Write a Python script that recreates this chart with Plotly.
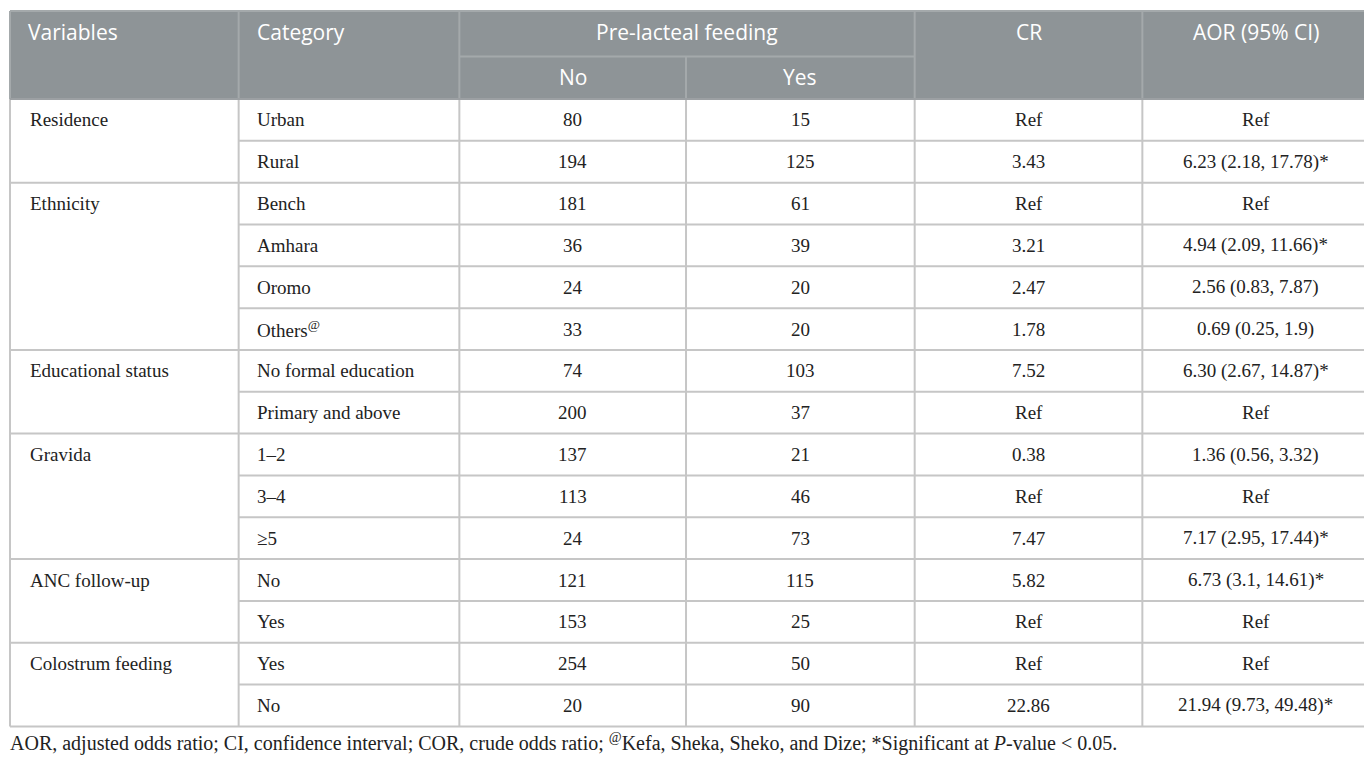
# Pre-lacteal feeding table: factors associated, drawn as a plotly figure


import numpy as np
import plotly.graph_objects as go

## Table data
variables = ["Residence", "Ethnicity", "Educational status", "Gravida",
             "ANC follow-up", "Colostrum feeding"]
group_sizes = [2, 4, 2, 3, 2, 2]
categories = ["Urban", "Rural", "Bench", "Amhara", "Oromo", "Others<sup>@</sup>",
              "No formal education", "Primary and above", "1–2", "3–4", "≥5",
              "No", "Yes", "Yes", "No"]
no_counts = [80, 194, 181, 36, 24, 33, 74, 200, 137, 113, 24, 121, 153, 254, 20]
yes_counts = [15, 125, 61, 39, 20, 20, 103, 37, 21, 46, 73, 115, 25, 50, 90]
cr_values = ["Ref", "3.43", "Ref", "3.21", "2.47", "1.78", "7.52", "Ref",
             "0.38", "Ref", "7.47", "5.82", "Ref", "Ref", "22.86"]
aor_values = ["Ref", "6.23 (2.18, 17.78)*", "Ref", "4.94 (2.09, 11.66)*",
              "2.56 (0.83, 7.87)", "0.69 (0.25, 1.9)", "6.30 (2.67, 14.87)*", "Ref",
              "1.36 (0.56, 3.32)", "Ref", "7.17 (2.95, 17.44)*", "6.73 (3.1, 14.61)*",
              "Ref", "Ref", "21.94 (9.73, 49.48)*"]
footnote = ("AOR, adjusted odds ratio; CI, confidence interval; COR, crude odds ratio; "
            "<sup>@</sup>Kefa, Sheka, Sheko, and Dize; *Significant at <i>P</i>-value &lt; 0.05.")

## Layout constants (pixel coordinates of the 1372x758 window)
W, H = 1372, 758
PAGE_MARGIN = 8  # browser default body margin
col_x = [2, 232, 454, 682, 912, 1141, 1369]
head_top, head_mid, head_bot = 3, 49, 92
row_h = 42.27
n_rows = len(categories)
row_y = head_bot + row_h * np.arange(n_rows + 1)

HEAD_BG = "#8e9497"
HEAD_LINE = "#a4a9ab"
GRID = "#c6c6c6"
SERIF = "Liberation Serif"
SANS = "Open Sans"

fig = go.Figure()
shapes = []
annotations = []

def line(x0, y0, x1, y1, color=GRID, width=2):
    shapes.append(dict(type="line", x0=x0, y0=y0, x1=x1, y1=y1, xref="x", yref="y",
                       line=dict(color=color, width=width), layer="above"))

def text(x, y, s, anchor="center", size=19, color="#222222", family=SERIF):
    annotations.append(dict(x=x, y=y, text=s, xref="x", yref="y", showarrow=False,
                            xanchor=anchor, yanchor="middle",
                            font=dict(size=size, color=color, family=family)))

## Header
shapes.append(dict(type="rect", x0=col_x[0], x1=col_x[-1], y0=head_top, y1=head_bot,
                   xref="x", yref="y", fillcolor=HEAD_BG, line=dict(width=0), layer="below"))
for cx in col_x[1:-1]:
    if cx == col_x[3]:
        line(cx, head_mid, cx, head_bot, HEAD_LINE)
    else:
        line(cx, head_top, cx, head_bot, HEAD_LINE)
line(col_x[2], head_mid, col_x[4], head_mid, HEAD_LINE)

y1 = (head_top + head_mid) / 2 - 2
y2 = (head_mid + head_bot) / 2 - 1
text(col_x[0] + 16, y1, "Variables", "left", 21, "white", SANS)
text(col_x[1] + 16, y1, "Category", "left", 21, "white", SANS)
text((col_x[2] + col_x[4]) / 2, y1, "Pre-lacteal feeding", "center", 21, "white", SANS)
text((col_x[2] + col_x[3]) / 2, y2, "No", "center", 21, "white", SANS)
text((col_x[3] + col_x[4]) / 2, y2, "Yes", "center", 21, "white", SANS)
text((col_x[4] + col_x[5]) / 2, y1, "CR", "center", 21, "white", SANS)
text((col_x[5] + col_x[6]) / 2, y1, "AOR (95% CI)", "center", 21, "white", SANS)

## Body grid
for cx in col_x:
    line(cx, head_bot, cx, row_y[-1])
group_starts = np.concatenate([[0], np.cumsum(group_sizes)])
for i in range(n_rows + 1):
    x_start = col_x[0] if i in group_starts else col_x[1]
    line(x_start, row_y[i], col_x[-1], row_y[i])
line(col_x[0], head_top, col_x[-1], head_top, HEAD_LINE)
line(col_x[0], head_top, col_x[0], head_bot, HEAD_LINE)
line(col_x[-1], head_top, col_x[-1], head_bot, HEAD_LINE)
line(col_x[0], head_bot, col_x[-1], head_bot, "#9ca0a3")

## Body text
for g, name in enumerate(variables):
    r = group_starts[g]
    text(col_x[0] + 18, (row_y[r] + row_y[r + 1]) / 2, name, "left")

for i in range(n_rows):
    yc = (row_y[i] + row_y[i + 1]) / 2
    text(col_x[1] + 16, yc, categories[i], "left")
    text((col_x[2] + col_x[3]) / 2, yc, str(no_counts[i]))
    text((col_x[3] + col_x[4]) / 2, yc, str(yes_counts[i]))
    text((col_x[4] + col_x[5]) / 2, yc, cr_values[i])
    text((col_x[5] + col_x[6]) / 2, yc, aor_values[i])

text(col_x[0] - 2, 742, footnote, "left", 20)

# the page margin pushes the figure in by 8px, so squeeze the full window
# range into what is left
fig.update_layout(
    width=W - PAGE_MARGIN, height=H - PAGE_MARGIN, margin=dict(l=0, r=0, t=0, b=0),
    paper_bgcolor="white", plot_bgcolor="white",
    shapes=shapes, annotations=annotations, showlegend=False,
)
fig.update_xaxes(range=[0, W], visible=False, fixedrange=True)
fig.update_yaxes(range=[H, 0], visible=False, fixedrange=True)

fig.write_html("out.html")
